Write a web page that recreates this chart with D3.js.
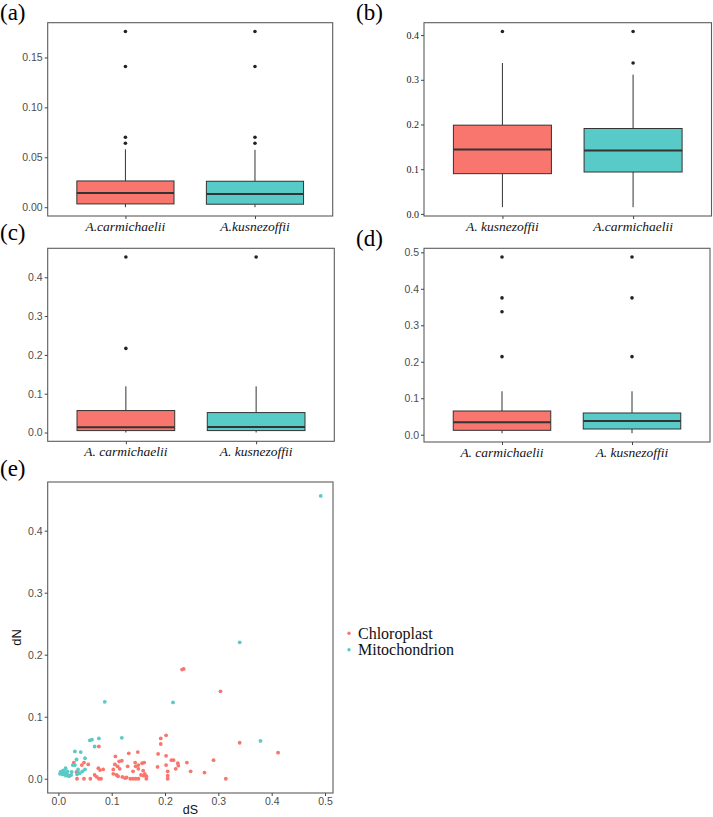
<!DOCTYPE html>
<html><head><meta charset="utf-8">
<script src="https://cdn.jsdelivr.net/npm/d3@7"></script>
<style>body{margin:0;background:#fff}svg{display:block}</style>
</head><body>
<svg id="c" width="713" height="817"></svg>
<script>
// ---------- DATA ----------
// Boxplot stats: [whiskerLow, q1, median, q3, whiskerHigh]
const panelA_cats = ["A.carmichaelii", "A.kusnezoffii"];
const panelA_stats = [[0.0, 0.0033, 0.0143, 0.0263, 0.058], [0.0, 0.003, 0.0133, 0.026, 0.0575]];
const panelA_out = [[0.176, 0.141, 0.070, 0.064], [0.176, 0.141, 0.070, 0.064]];
const panelA_ticks = [0, 0.05, 0.10, 0.15];

const panelB_cats = ["A. kusnezoffii", "A.carmichaelii"];
const panelB_stats = [[0.015, 0.090, 0.1443, 0.1985, 0.3375], [0.015, 0.0937, 0.142, 0.191, 0.3116]];
const panelB_out = [[0.408], [0.408, 0.3375]];
const panelB_ticks = [0, 0.1, 0.2, 0.3, 0.4];

const panelC_cats = ["A. carmichaelii", "A. kusnezoffii"];
const panelC_stats = [[0.0, 0.005, 0.0136, 0.0566, 0.119], [0.0, 0.005, 0.0144, 0.0514, 0.119]];
const panelC_out = [[0.452, 0.2167], [0.452]];
const panelC_ticks = [0, 0.1, 0.2, 0.3, 0.4];

const panelD_cats = ["A. carmichaelii", "A. kusnezoffii"];
const panelD_stats = [[0.004, 0.012, 0.034, 0.065, 0.119], [0.004, 0.0156, 0.0375, 0.0595, 0.119]];
const panelD_out = [[0.487, 0.375, 0.337, 0.214], [0.487, 0.375, 0.214]];
const panelD_ticks = [0, 0.1, 0.2, 0.3, 0.4, 0.5];

// Scatter (e): [dS, dN]
const chloroplast = [
[0.232,0.176],[0.235,0.177],[0.304,0.141],[0.340,0.058],[0.412,0.042],[0.291,0.030],[0.248,0.012],[0.274,0.010],[0.314,0.000],
[0.202,0.070],[0.192,0.065],[0.192,0.056],[0.187,0.040],[0.202,0.037],[0.212,0.030],[0.216,0.030],[0.241,0.026],[0.224,0.025],
[0.225,0.021],[0.202,0.022],[0.186,0.019],[0.220,0.016],[0.205,0.012],[0.205,0.005],[0.205,0.000],[0.165,0.004],[0.165,0.000],
[0.076,0.052],[0.132,0.041],[0.107,0.036],[0.149,0.043],[0.144,0.026],[0.150,0.022],[0.157,0.025],[0.161,0.026],[0.119,0.029],
[0.048,0.026],[0.044,0.022],[0.056,0.023],[0.029,0.026],[0.034,0.011],[0.037,0.009],[0.012,0.009],[0.016,0.007],[0.075,0.017],
[0.078,0.014],[0.084,0.015],[0.068,0.006],[0.103,0.008],[0.109,0.006],[0.112,0.004],[0.120,0.003],[0.125,0.001],[0.128,0.002],
[0.135,0.000],[0.140,0.000],[0.145,0.000],[0.150,0.000],[0.160,0.005],[0.162,0.008],[0.048,0.000],[0.060,0.000],[0.076,0.000],
[0.103,0.015],[0.115,0.016],[0.159,0.013],[0.150,0.016],[0.140,0.012],[0.145,0.020],[0.106,0.023],[0.111,0.020],[0.020,0.005],
[0.035,0.000],[0.072,0.003],[0.080,0.000],[0.114,0.028],[0.155,0.006],[0.130,0.020]
];
const mitochondrion = [
[0.492,0.456],[0.340,0.220],[0.087,0.124],[0.215,0.123],[0.379,0.061],[0.119,0.066],[0.059,0.062],[0.063,0.063],[0.076,0.065],
[0.068,0.052],[0.031,0.044],[0.042,0.043],[0.034,0.031],[0.050,0.033],[0.027,0.022],[0.031,0.022],[0.0135,0.017],[0.005,0.010],
[0.003,0.008],[0.007,0.012],[0.010,0.008],[0.012,0.011],[0.015,0.009],[0.017,0.012],[0.008,0.007],[0.004,0.011],[0.025,0.011],
[0.040,0.009],[0.050,0.015],[0.037,0.015],[0.020,0.004],[0.035,0.007],[0.045,0.012],[0.009,0.013],[0.014,0.005],[0.024,0.006]
];
const e_xticks = [0, 0.1, 0.2, 0.3, 0.4, 0.5];
const e_yticks = [0, 0.1, 0.2, 0.3, 0.4];
const legendLabels = ["Chloroplast", "Mitochondrion"];

// ---------- STYLE ----------
const RED = "#F8766D", TEAL = "#58CAC8";
const svg = d3.select("#c");
const SERIF = "Liberation Serif, serif";
const SANS = "Liberation Sans, Arial, sans-serif";

function panelLabel(t, x, y) {
  svg.append("text").attr("x", x).attr("y", y).attr("font-family", SERIF)
    .attr("font-size", 23).attr("fill", "#000").text(t);
}

function boxPanel(opt) {
  const {x0, x1, y0, y1, domain, cats, stats, outs, ticks, fmt, tickFont, tickSize, tickColor, labelY} = opt;
  const x = d3.scaleLinear().domain([0.4, 2.6]).range([x0, x1]);
  const y = d3.scaleLinear().domain(domain).range([y1, y0]);
  const g = svg.append("g");
  const bw = x(1.375) - x(1);
  const fills = [RED, TEAL];
  stats.forEach((s, i) => {
    const cx = x(i + 1);
    g.append("line").attr("x1", cx).attr("x2", cx).attr("y1", y(s[3])).attr("y2", y(s[4]))
      .attr("stroke", "#333").attr("stroke-width", 1);
    g.append("line").attr("x1", cx).attr("x2", cx).attr("y1", y(s[0])).attr("y2", y(s[1]))
      .attr("stroke", "#333").attr("stroke-width", 1);
    g.append("rect").attr("x", cx - bw).attr("width", 2 * bw)
      .attr("y", y(s[3])).attr("height", y(s[1]) - y(s[3]))
      .attr("fill", fills[i]).attr("stroke", "#333").attr("stroke-width", 1);
    g.append("line").attr("x1", cx - bw).attr("x2", cx + bw).attr("y1", y(s[2])).attr("y2", y(s[2]))
      .attr("stroke", "#333").attr("stroke-width", 2);
    g.selectAll(null).data(outs[i]).enter().append("circle")
      .attr("cx", cx).attr("cy", d => y(d)).attr("r", 1.8).attr("fill", "#222");
  });
  g.append("rect").attr("x", x0).attr("y", y0).attr("width", x1 - x0).attr("height", y1 - y0)
    .attr("fill", "none").attr("stroke", "#5c5c5c").attr("stroke-width", 1.1);
  const ya = g.append("g").attr("transform", `translate(${x0},0)`)
    .call(d3.axisLeft(y).tickValues(ticks).tickFormat(d3.format(fmt)).tickSize(3).tickPadding(2));
  ya.select(".domain").remove();
  ya.selectAll("line").attr("stroke", "#444");
  ya.selectAll("text").attr("font-family", tickFont).attr("font-size", tickSize).attr("fill", tickColor);
  const xa = g.append("g").attr("transform", `translate(0,${y1})`)
    .call(d3.axisBottom(x).tickValues([1, 2]).tickFormat("").tickSize(3));
  xa.select(".domain").remove();
  xa.selectAll("line").attr("stroke", "#444");
  cats.forEach((c, i) => {
    g.append("text").attr("x", x(i + 1)).attr("y", labelY).attr("text-anchor", "middle")
      .attr("font-family", SERIF).attr("font-style", "italic").attr("font-size", 13.5)
      .attr("fill", "#111").text(c);
  });
}

panelLabel("(a)", 0, 20);
boxPanel({x0: 47.7, x1: 332.7, y0: 22.7, y1: 216, domain: [-0.0088, 0.1848], cats: panelA_cats,
  stats: panelA_stats, outs: panelA_out, ticks: panelA_ticks, fmt: ".2f", tickFont: SANS, tickSize: 10.5,
  tickColor: "#4d4d4d", labelY: 231});

panelLabel("(b)", 356, 20);
boxPanel({x0: 424, x1: 711.5, y0: 22.7, y1: 216, domain: [-0.0047, 0.4277], cats: panelB_cats,
  stats: panelB_stats, outs: panelB_out, ticks: panelB_ticks, fmt: ".1f", tickFont: SERIF, tickSize: 10,
  tickColor: "#222", labelY: 231});

panelLabel("(c)", 0, 240);
boxPanel({x0: 47.7, x1: 334.3, y0: 248.3, y1: 441.3, domain: [-0.0226, 0.4746], cats: panelC_cats,
  stats: panelC_stats, outs: panelC_out, ticks: panelC_ticks, fmt: ".1f", tickFont: SANS, tickSize: 10.5,
  tickColor: "#4d4d4d", labelY: 455.5});

panelLabel("(d)", 356, 246);
boxPanel({x0: 424, x1: 710, y0: 248.3, y1: 442, domain: [-0.02, 0.511], cats: panelD_cats,
  stats: panelD_stats, outs: panelD_out, ticks: panelD_ticks, fmt: ".1f", tickFont: SANS, tickSize: 10.5,
  tickColor: "#4d4d4d", labelY: 456.5});

// ---------- (e) scatter ----------
panelLabel("(e)", 0, 476);
(function () {
  const x0 = 47.7, x1 = 333, y0 = 482, y1 = 793;
  const x = d3.scaleLinear().domain([-0.020, 0.515]).range([x0, x1]);
  const y = d3.scaleLinear().domain([-0.023, 0.4785]).range([y1, y0]);
  const g = svg.append("g");
  g.selectAll(".cp").data(chloroplast).enter().append("circle")
    .attr("cx", d => x(d[0])).attr("cy", d => y(d[1])).attr("r", 1.9).attr("fill", RED);
  g.selectAll(".mt").data(mitochondrion).enter().append("circle")
    .attr("cx", d => x(d[0])).attr("cy", d => y(d[1])).attr("r", 1.9).attr("fill", TEAL);
  g.append("rect").attr("x", x0).attr("y", y0).attr("width", x1 - x0).attr("height", y1 - y0)
    .attr("fill", "none").attr("stroke", "#5c5c5c").attr("stroke-width", 1.1);
  const ya = g.append("g").attr("transform", `translate(${x0},0)`)
    .call(d3.axisLeft(y).tickValues(e_yticks).tickFormat(d3.format(".1f")).tickSize(3).tickPadding(2));
  ya.select(".domain").remove();
  ya.selectAll("line").attr("stroke", "#444");
  ya.selectAll("text").attr("font-family", SANS).attr("font-size", 10.5).attr("fill", "#4d4d4d");
  const xa = g.append("g").attr("transform", `translate(0,${y1})`)
    .call(d3.axisBottom(x).tickValues(e_xticks).tickFormat(d3.format(".1f")).tickSize(3).tickPadding(2));
  xa.select(".domain").remove();
  xa.selectAll("line").attr("stroke", "#444");
  xa.selectAll("text").attr("font-family", SANS).attr("font-size", 10.5).attr("fill", "#4d4d4d");
  svg.append("text").attr("x", (x0 + x1) / 2).attr("y", 814).attr("text-anchor", "middle")
    .attr("font-family", SANS).attr("font-size", 12.5).attr("fill", "#111").text("dS");
  svg.append("text").attr("transform", `translate(21,${(y0 + y1) / 2}) rotate(-90)`).attr("text-anchor", "middle")
    .attr("font-family", SANS).attr("font-size", 13).attr("fill", "#111").text("dN");
  const lc = [RED, TEAL];
  legendLabels.forEach((l, i) => {
    svg.append("circle").attr("cx", 349).attr("cy", 633.3 + i * 16.5).attr("r", 1.7).attr("fill", lc[i]);
    svg.append("text").attr("x", 358).attr("y", 638.5 + i * 16.3).attr("font-family", SERIF)
      .attr("font-size", 16).attr("fill", "#111").text(l);
  });
})();
</script>
</body></html>
